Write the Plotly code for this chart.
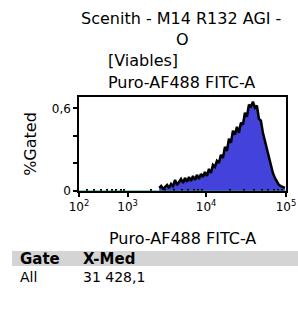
import numpy as np
import plotly.graph_objects as go

# ---- data ----
bin_centers = [2570, 2722, 2884, 3055, 3236, 3428, 3631, 3846, 4074, 4316,
               4572, 4843, 5130, 5434, 5756, 6097, 6459, 6842, 7248, 7677,
               8133, 8615, 9126, 9667, 10240, 10847, 11490, 12172, 12894, 13658,
               14468, 15326, 16235, 17198, 18218, 19298, 20443, 21655, 22939, 24300,
               25741, 27267, 28884, 30597, 32412, 34334, 36370, 38527, 40812, 43232,
               45796, 48512, 51389, 54436, 57665, 61084, 64707, 68544, 72609, 76915,
               81476, 86308, 91426, 96848]
pct_gated = [0.022, 0.036, 0.015, 0.029, 0.044, 0.022, 0.051, 0.036, 0.080, 0.044,
             0.066, 0.087, 0.058, 0.095, 0.066, 0.102, 0.073, 0.109, 0.080, 0.117,
             0.087, 0.124, 0.102, 0.138, 0.109, 0.160, 0.131, 0.189, 0.175, 0.219,
             0.204, 0.262, 0.240, 0.320, 0.291, 0.379, 0.350, 0.437, 0.408, 0.466,
             0.422, 0.495, 0.481, 0.568, 0.539, 0.626, 0.612, 0.648, 0.605, 0.619,
             0.524, 0.510, 0.422, 0.364, 0.320, 0.248, 0.182, 0.131, 0.095, 0.066,
             0.044, 0.036, 0.029, 0.022]

x_major = [100, 1000, 10000, 100000]
x_major_labels = ["10<sup>2</sup>", "10<sup>3</sup>", "10<sup>4</sup>", "10<sup>5</sup>"]
x_minor = [200, 300, 400, 500, 600, 700, 800, 900,
           2000, 3000, 4000, 5000, 6000, 7000, 8000, 9000,
           20000, 30000, 40000, 50000, 60000, 70000, 80000, 90000]
y_ticks = [0, 0.2, 0.4, 0.6]
y_tick_labels = ["0", "", "", "0,6"]

title_lines = ["Scenith - M14 R132 AGI -", "O"]
subtitle_lines = ["[Viables]", "Puro-AF488 FITC-A"]
x_title = "Puro-AF488 FITC-A"
y_title = "%Gated"
table_header = ["Gate", "X-Med"]
table_row = ["All", "31 428,1"]

COF = 400.0
def biex(v):
    return np.arcsinh(np.asarray(v, dtype=float) / COF)

FONT = "DejaVu Sans"
TS = 16

fig = go.Figure()
fig.add_trace(go.Scatter(
    x=biex(bin_centers), y=pct_gated, mode="lines",
    line=dict(color="black", width=2.5),
    fill="tozeroy", fillcolor="#4343dc",
    hoverinfo="skip", showlegend=False))

L, R, T, B = 79, 12, 97, 118
W, H = 298, 309
pw, ph = W - L - R, H - T - B

def px_x(p):
    return (p - L) / pw

def px_y(p):
    return (H - B - p) / ph

fig.update_layout(
    width=W, height=H,
    margin=dict(l=L, r=R, t=T, b=B, autoexpand=False),
    paper_bgcolor="white", plot_bgcolor="white",
    font=dict(family=FONT, size=12, color="black"),
    xaxis=dict(range=[float(biex(100)), float(biex(100000))],
               tickmode="array", tickvals=list(biex(x_major)), ticktext=x_major_labels,
               ticks="outside", ticklen=4, tickwidth=1.5, tickcolor="black",
               showline=True, linecolor="black", linewidth=1.5, mirror=True,
               showgrid=False, zeroline=False, automargin=False,
               tickfont=dict(size=12, family=FONT),
               minor=dict(tickmode="array", tickvals=list(biex(x_minor)),
                          ticks="inside", ticklen=2, tickwidth=1.5, tickcolor="black", showgrid=False)),
    yaxis=dict(range=[0, 0.682],
               tickmode="array", tickvals=y_ticks, ticktext=y_tick_labels,
               ticks="outside", ticklen=4, tickwidth=1.5, tickcolor="black",
               showline=True, linecolor="black", linewidth=1.5, mirror=True,
               showgrid=False, zeroline=False, automargin=False,
               tickfont=dict(size=12, family=FONT),
               title=dict(text=y_title, font=dict(size=16, family=FONT), standoff=11)),
)

def ann(text, x, y, anchor, size=TS):
    return dict(text=text, x=px_x(x), y=px_y(y), xref="paper", yref="paper",
                xanchor=anchor, yanchor="middle", showarrow=False,
                font=dict(size=size, family=FONT, color="black"))

annots = [
    ann(title_lines[0], 181, 18, "center"),
    ann(title_lines[1], 182, 39, "center"),
    ann(subtitle_lines[0], 106, 61, "left"),
    ann(subtitle_lines[1], 106, 82, "left"),
    ann(x_title, 182, 238, "center"),
    ann("<b>" + table_header[0] + "</b>", 18, 259, "left", 15),
    ann("<b>" + table_header[1] + "</b>", 81, 259, "left", 15),
    ann(table_row[0], 18, 277, "left", 14),
    ann(table_row[1], 81, 277, "left", 14),
]
fig.update_layout(annotations=annots)

fig.add_shape(type="rect", xref="paper", yref="paper",
              x0=px_x(12), x1=px_x(298), y0=px_y(266), y1=px_y(251),
              fillcolor="#d4d4d4", line=dict(width=0), layer="below")
fig.add_shape(type="line", xref="x", yref="y",
              x0=float(biex(100)), x1=float(biex(100000)), y0=0, y1=0,
              line=dict(color="#2a9a8a", width=1), layer="above")

fig.write_html("out.html", config={"displayModeBar": False},
               post_script="document.body.style.margin='0';document.body.style.padding='0';")
